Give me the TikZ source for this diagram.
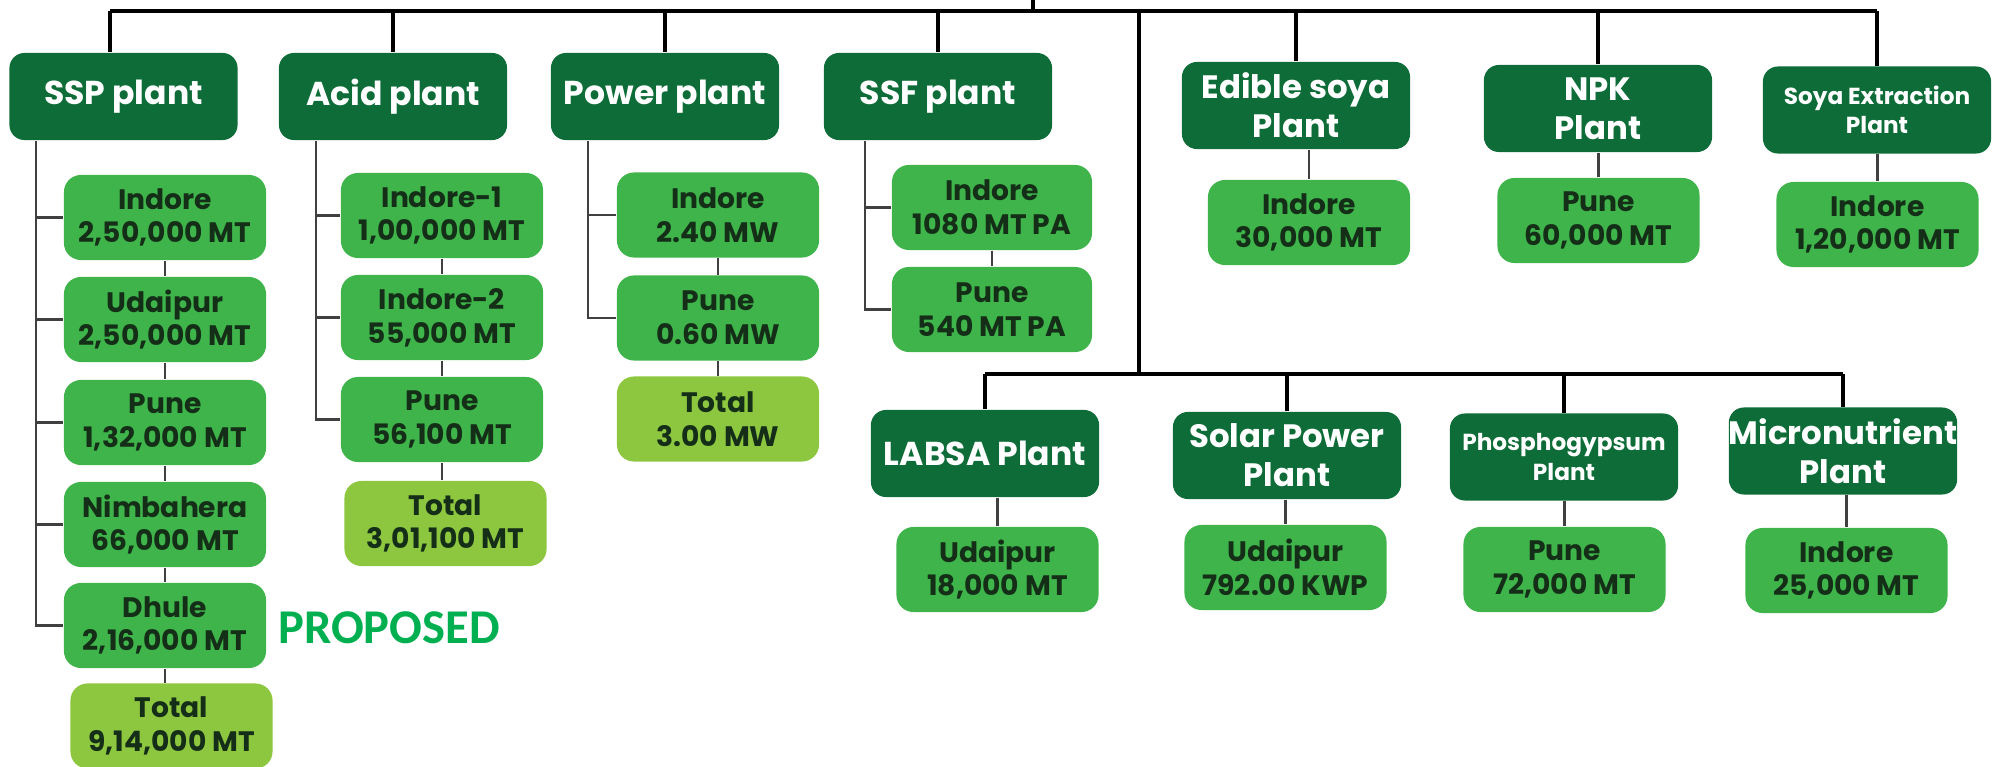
\documentclass[tikz,border=0pt]{standalone}
\usepackage{fontspec}
\setmainfont{Poppins}
\newfontfamily\propfont{Carlito}

\definecolor{hdrgreen}{RGB}{13,108,55}
\definecolor{subgreen}{RGB}{62,180,74}
\definecolor{totgreen}{RGB}{141,198,63}
\definecolor{subtext}{RGB}{20,46,24}
\definecolor{propgreen}{RGB}{0,176,80}

\tikzset{
  hdr/.style={fill=hdrgreen, rounded corners=0.15cm, minimum width=2.28cm, minimum height=0.87cm,
    inner sep=0pt, align=center, text=white, font=\bfseries\fontsize{9.4}{11}\selectfont},
  hdrtwo/.style={hdr, font=\bfseries\fontsize{9.2}{11}\selectfont},
  hdrsmall/.style={hdr, font=\bfseries\fontsize{6.6}{8.4}\selectfont},
  sub/.style={fill=subgreen, rounded corners=0.17cm, minimum width=2.02cm, minimum height=0.85cm,
    inner sep=0pt, align=center, text=subtext, font=\bfseries\fontsize{8}{9.6}\selectfont},
  tot/.style={sub, fill=totgreen},
  bar/.style={line width=1.1pt, black},
  branch/.style={line width=0.6pt, black!75},
}

\begin{document}
\begin{tikzpicture}[x=0.01cm, y=-0.01cm]
\useasboundingbox (0,0) rectangle (1993,767);

% plant headers
\node[hdr] (ssp) at (123.5, 96.5) {SSP plant};
\node[hdr] (acid) at (393, 96.5) {Acid plant};
\node[hdr] (power) at (665, 96.5) {Power plant};
\node[hdr] (ssf) at (938, 96.5) {SSF plant};
\node[hdrtwo] (edible) at (1296, 105.5) {Edible soya\\Plant};
\node[hdrtwo] (npk) at (1598, 108.5) {NPK\\Plant};
\node[hdrsmall] (soyaex) at (1877, 110) {Soya Extraction\\Plant};
\node[hdr] (labsa) at (985, 453.5) {LABSA Plant};
\node[hdrtwo] (solar) at (1287, 455.5) {Solar Power\\Plant};
\node[hdrsmall] (phospho) at (1564, 457) {Phosphogypsum\\Plant};
\node[hdrtwo] (micro) at (1843, 451) {Micronutrient\\Plant};

% SSP
\node[sub] (ssp1) at (165, 217.5) {Indore\\2,50,000 MT};
\node[sub] (ssp2) at (165, 319.5) {Udaipur\\2,50,000 MT};
\node[sub] (ssp3) at (165, 422.5) {Pune\\1,32,000 MT};
\node[sub] (ssp4) at (165, 524.5) {Nimbahera\\66,000 MT};
\node[sub] (ssp5) at (165, 625.5) {Dhule\\2,16,000 MT};
\node[tot] (ssp6) at (171.5, 726) {Total\\9,14,000 MT};
\node[font=\propfont\bfseries\fontsize{13.8}{16}\selectfont, text=propgreen] (prop) at (389, 628) {PROPOSED};

% acid
\node[sub] (acid1) at (442, 215.5) {Indore-1\\1,00,000 MT};
\node[sub] (acid2) at (442, 317.5) {Indore-2\\55,000 MT};
\node[sub] (acid3) at (442, 419.5) {Pune\\56,100 MT};
\node[tot] (acid4) at (445.5, 523.5) {Total\\3,01,100 MT};

% power
\node[sub] (power1) at (718, 215) {Indore\\2.40 MW};
\node[sub] (power2) at (718, 318) {Pune\\0.60 MW};
\node[tot] (power3) at (718, 419) {Total\\3.00 MW};

% SSF
\node[sub, minimum width=2cm] (ssf1) at (992, 207.5) {Indore\\1080 MT PA};
\node[sub, minimum width=2cm] (ssf2) at (992, 309.5) {Pune\\540 MT PA};

% single sites
\node[sub] (edible1) at (1309, 222.5) {Indore\\30,000 MT};
\node[sub] (npk1) at (1598.5, 220.5) {Pune\\60,000 MT};
\node[sub] (soyaex1) at (1877.5, 224.5) {Indore\\1,20,000 MT};
\node[sub] (labsa1) at (997.5, 569.5) {Udaipur\\18,000 MT};
\node[sub] (solar1) at (1285.5, 567.5) {Udaipur\\792.00 KWP};
\node[sub] (phospho1) at (1564.5, 569.5) {Pune\\72,000 MT};
\node[sub] (micro1) at (1846.5, 570.5) {Indore\\25,000 MT};

% top bars
\coordinate (root) at (1033, 0);
\coordinate (topbar) at (1033, 11);
\coordinate (midtop) at (1139, 11);
\coordinate (midbar) at (1139, 374);
\coordinate (sspdrop) at (110, 0);
\draw[bar] (root) -- (topbar);
\draw[bar] (sspdrop |- topbar) -- (soyaex.north |- topbar);
\draw[bar] (sspdrop |- topbar) -- (sspdrop |- ssp.north);
\foreach \n in {acid,power,ssf,edible,npk,soyaex}
  \draw[bar] (\n.north |- topbar) -- (\n.north);
\draw[bar] (midtop) -- (midbar);
\draw[bar] (labsa.north |- midbar) -- (micro.north |- midbar);
\foreach \n in {labsa,solar,phospho,micro}
  \draw[bar] (\n.north |- midbar) -- (\n.north);

% side trunks
\coordinate (sspT) at (36, 0);
\coordinate (acidT) at (316, 0);
\coordinate (powerT) at (588, 0);
\coordinate (ssfT) at (865, 0);
\draw[branch] (ssp.south -| sspT) |- (ssp5.west);
\foreach \i in {1,...,4}
  \draw[branch] (sspT |- ssp\i.west) -- (ssp\i.west);
\draw[branch] (acid.south -| acidT) |- (acid3.west);
\foreach \i in {1,2}
  \draw[branch] (acidT |- acid\i.west) -- (acid\i.west);
\draw[branch] (power.south -| powerT) |- (power2.west);
\draw[branch] (powerT |- power1.west) -- (power1.west);
\draw[branch] (ssf.south -| ssfT) |- (ssf2.west);
\draw[branch] (ssfT |- ssf1.west) -- (ssf1.west);

% stacked links
\foreach \a/\b in {ssp1/ssp2,ssp2/ssp3,ssp3/ssp4,ssp4/ssp5,ssp5/ssp6,
  acid1/acid2,acid2/acid3,acid3/acid4,power1/power2,power2/power3,ssf1/ssf2}
  \draw[branch] (\a.south) -- (\a.south |- \b.north);
\foreach \n in {edible,npk,soyaex,labsa,solar,phospho,micro}
  \draw[branch] (\n.south -| \n1.north) -- (\n1.north);
\end{tikzpicture}
\end{document}
